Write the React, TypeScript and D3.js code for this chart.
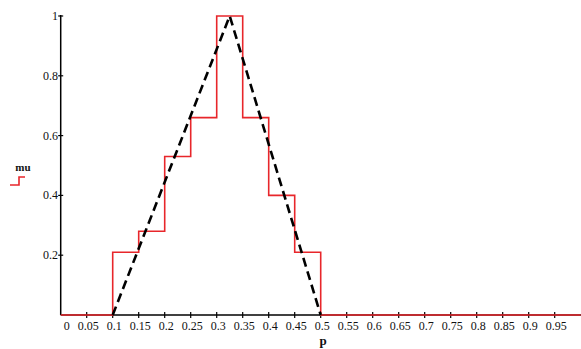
import React, { useRef, useEffect } from "react";
import * as d3 from "d3";

// step edges (p) and the mu level that starts at each edge
const stepP = [0, 0.1, 0.15, 0.2, 0.25, 0.3, 0.35, 0.4, 0.45, 0.5, 1];
const stepMu = [0, 0.21, 0.28, 0.53, 0.66, 1, 0.66, 0.4, 0.21, 0, 0];

// triangular membership (dashed)
const triP = [0.1, 0.325, 0.5];
const triMu = [0, 1, 0];

const xTicks = [0, 0.05, 0.1, 0.15, 0.2, 0.25, 0.3, 0.35, 0.4, 0.45, 0.5, 0.55, 0.6, 0.65, 0.7, 0.75, 0.8, 0.85, 0.9, 0.95];
const yTicks = [0.2, 0.4, 0.6, 0.8, 1];

function App() {
  const svgRef = useRef<SVGSVGElement>(null);

  useEffect(() => {
    const svg = d3.select(svgRef.current);
    const width = 581;
    const height = 349;
    svg.attr("width", width).attr("height", height);
    svg.selectAll("*").remove();

    const font = "'Liberation Serif', 'Times New Roman', serif";

    const x = d3.scaleLinear().domain([0, 1]).range([60.7, 580.7]);
    const y = d3.scaleLinear().domain([0, 1]).range([315, 16]);

    // axes lines
    svg.append("line")
      .attr("x1", x(0)).attr("x2", width)
      .attr("y1", y(0)).attr("y2", y(0))
      .attr("stroke", "#000").attr("stroke-width", 1.5);
    svg.append("line")
      .attr("x1", x(0)).attr("x2", x(0))
      .attr("y1", y(1) - 1).attr("y2", y(0))
      .attr("stroke", "#000").attr("stroke-width", 1.5);

    // x ticks + labels
    const xg = svg.append("g");
    xg.selectAll("line")
      .data(xTicks.slice(1))
      .join("line")
      .attr("x1", d => x(d)).attr("x2", d => x(d))
      .attr("y1", y(0) - 3).attr("y2", y(0) + 3)
      .attr("stroke", "#000").attr("stroke-width", 1.2);
    xg.selectAll("text")
      .data(xTicks)
      .join("text")
      .attr("x", d => x(d) + (d === 0 ? 6 : 1.5))
      .attr("y", 330)
      .attr("text-anchor", "middle")
      .style("font-family", font)
      .style("font-size", "12px")
      .attr("fill", "#111")
      .text(d => d3.format("~g")(d));

    // y ticks + labels
    const yg = svg.append("g");
    yg.selectAll("line")
      .data(yTicks)
      .join("line")
      .attr("x1", x(0) - 2.5).attr("x2", x(0) + 2.5)
      .attr("y1", d => y(d)).attr("y2", d => y(d))
      .attr("stroke", "#000").attr("stroke-width", 1.2);
    yg.selectAll("text")
      .data(yTicks)
      .join("text")
      .attr("x", 58)
      .attr("y", d => y(d) + 4)
      .attr("text-anchor", "end")
      .style("font-family", font)
      .style("font-size", "12px")
      .attr("fill", "#111")
      .text(d => d3.format("~g")(d));

    // red step function
    const step = d3.line<number>()
      .x((d, i) => x(stepP[i]))
      .y(d => y(d))
      .curve(d3.curveStepAfter);
    svg.append("path")
      .attr("d", step(stepMu))
      .attr("fill", "none")
      .attr("stroke", "#e8262b")
      .attr("stroke-width", 1.6);

    // dashed triangle
    const tri = d3.line<number>()
      .x((d, i) => x(triP[i]))
      .y(d => y(d));
    svg.append("path")
      .attr("d", tri(triMu))
      .attr("fill", "none")
      .attr("stroke", "#000")
      .attr("stroke-width", 2.6)
      .attr("stroke-dasharray", "9,5");

    // legend
    svg.append("text")
      .attr("x", 23).attr("y", 171)
      .attr("text-anchor", "middle")
      .style("font-family", font)
      .style("font-size", "11px")
      .style("font-weight", "bold")
      .attr("fill", "#111")
      .text("mu");
    svg.append("path")
      .attr("d", "M10,185H19V177H25")
      .attr("fill", "none")
      .attr("stroke", "#e8262b")
      .attr("stroke-width", 1.6);

    // x label
    svg.append("text")
      .attr("x", 323).attr("y", 345)
      .attr("text-anchor", "middle")
      .style("font-family", font)
      .style("font-size", "13px")
      .style("font-weight", "bold")
      .attr("fill", "#111")
      .text("p");
  }, []);

  return (
    <div style={{ position: "absolute", left: 0, top: 0 }}>
      <svg ref={svgRef}></svg>
    </div>
  );
}

export default App;
